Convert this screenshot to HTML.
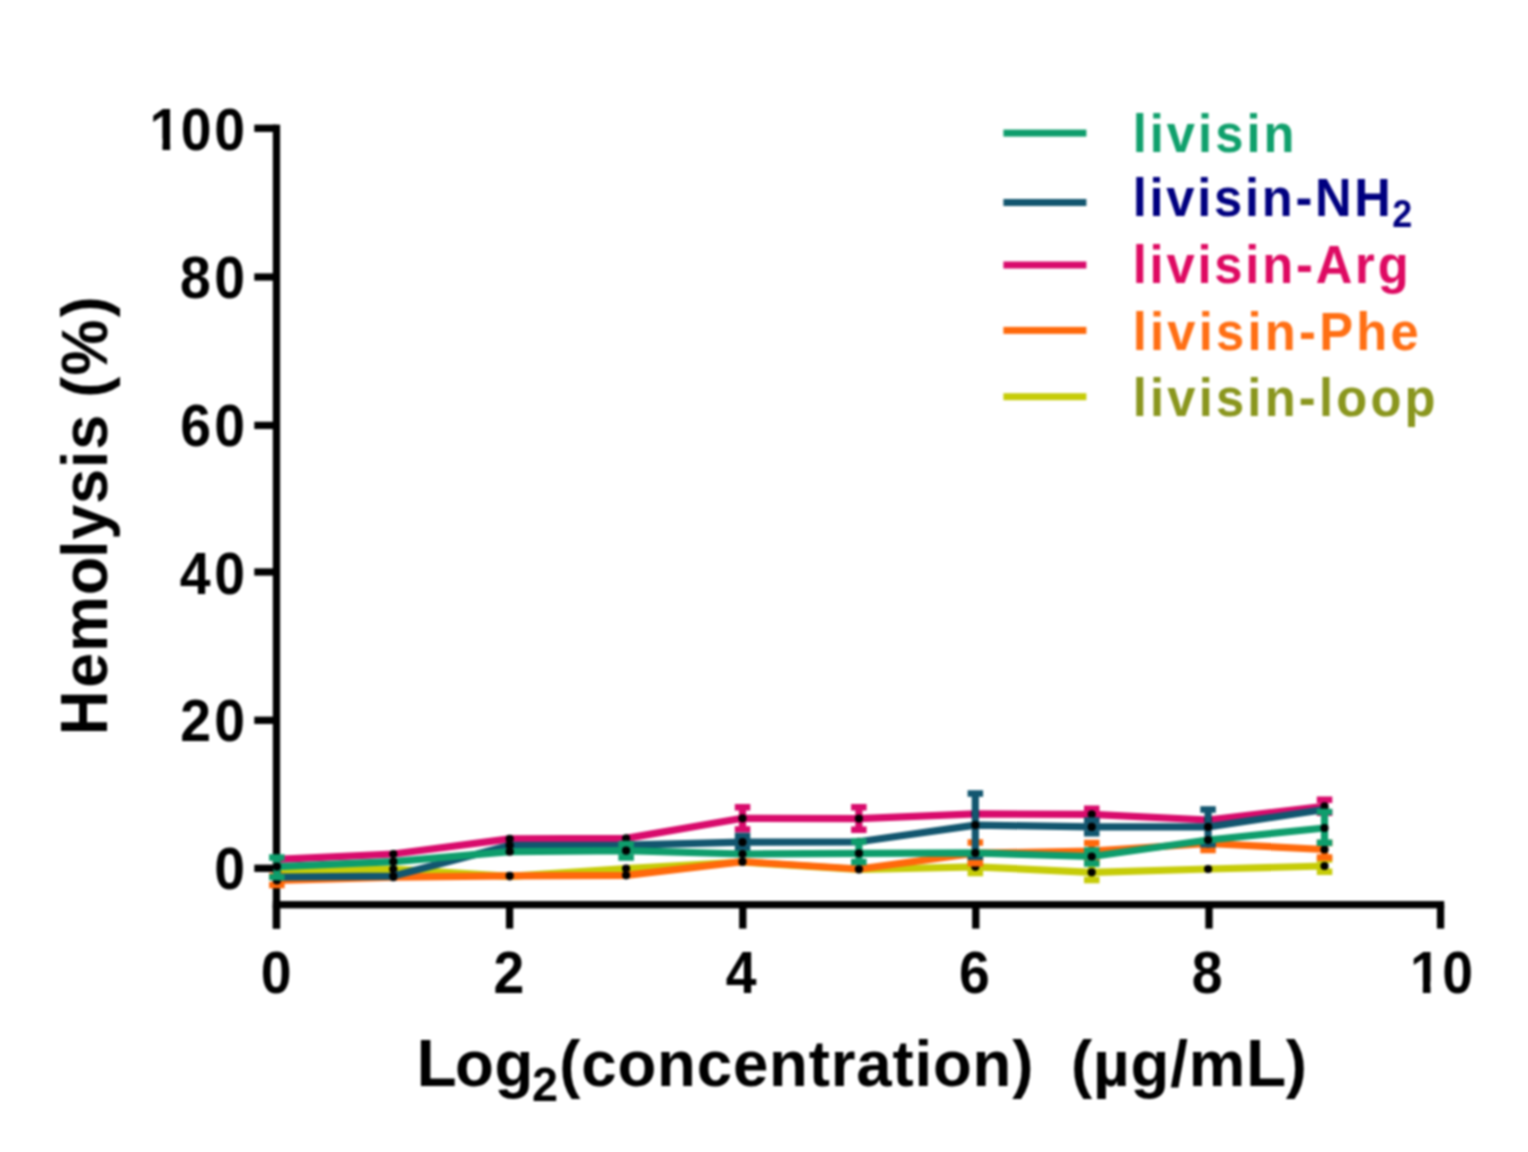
<!DOCTYPE html>
<html lang="en">
<head>
<meta charset="utf-8">
<title>Hemolysis of livisin analogues</title>
<style>
html,body{margin:0;padding:0;background:#fff;}
body{width:1528px;height:1152px;overflow:hidden;position:relative;font-family:"Liberation Sans", sans-serif;}
svg{position:absolute;left:0;top:0;display:block;filter:blur(0.8px);}
text{font-family:"Liberation Sans", sans-serif;font-weight:700;}
.tick{font-size:58.3px;fill:#000;}
.title{font-size:64.5px;fill:#000;}
.leg{font-size:54.2px;}
</style>
</head>
<body>
<svg width="1528" height="1152" viewBox="0 0 1528 1152" role="img" aria-label="Hemolysis (%) versus Log2(concentration) (µg/mL) for livisin and its analogues">
<rect x="0" y="0" width="1528" height="1152" fill="#ffffff"/>

<g id="axes" fill="#000">
<rect x="272.80" y="124.65" width="7.3" height="803.95"/>
<rect x="272.80" y="901.05" width="1171.40" height="7.3"/>
<rect x="254.3" y="864.65" width="22.15" height="7.3"/>
<rect x="254.3" y="716.65" width="22.15" height="7.3"/>
<rect x="254.3" y="568.35" width="22.15" height="7.3"/>
<rect x="254.3" y="421.75" width="22.15" height="7.3"/>
<rect x="254.3" y="273.35" width="22.15" height="7.3"/>
<rect x="254.3" y="124.65" width="22.15" height="7.3"/>
<rect x="272.80" y="904.7" width="7.3" height="23.90"/>
<rect x="505.95" y="904.7" width="7.3" height="23.90"/>
<rect x="739.15" y="904.7" width="7.3" height="23.90"/>
<rect x="972.15" y="904.7" width="7.3" height="23.90"/>
<rect x="1205.35" y="904.7" width="7.3" height="23.90"/>
<rect x="1436.90" y="904.7" width="7.3" height="23.90"/>
</g>
<g id="data" fill="none" stroke-linejoin="round" stroke-linecap="butt">
<path d="M975.3 861.0V873.0" stroke="#c6cc08" stroke-width="7.2"/>
<path d="M967.6 861.0h15.5M967.6 873.0h15.5" stroke="#c6cc08" stroke-width="6.4"/>
<path d="M1091.7 863.0V880.0" stroke="#c6cc08" stroke-width="7.2"/>
<path d="M1084.0 863.0h15.5M1084.0 880.0h15.5" stroke="#c6cc08" stroke-width="6.4"/>
<path d="M1324.5 859.6V871.8" stroke="#c6cc08" stroke-width="7.2"/>
<path d="M1316.8 859.6h15.5M1316.8 871.8h15.5" stroke="#c6cc08" stroke-width="6.4"/>
<path d="M276.9 871.0 L393.3 869.2 L509.7 876.3 L626.1 868.5 L742.5 862.0 L858.9 869.5 L975.3 866.8 L1091.7 872.3 L1208.1 869.0 L1324.5 866.0" stroke="#c6cc08" stroke-width="7.2"/>
<circle cx="276.9" cy="871.0" r="4.1" fill="#000" stroke="none"/>
<circle cx="393.3" cy="869.2" r="4.1" fill="#000" stroke="none"/>
<circle cx="509.7" cy="876.3" r="4.1" fill="#000" stroke="none"/>
<circle cx="626.1" cy="868.5" r="4.1" fill="#000" stroke="none"/>
<circle cx="742.5" cy="862.0" r="4.1" fill="#000" stroke="none"/>
<circle cx="858.9" cy="869.5" r="4.1" fill="#000" stroke="none"/>
<circle cx="975.3" cy="866.8" r="4.1" fill="#000" stroke="none"/>
<circle cx="1091.7" cy="872.3" r="4.1" fill="#000" stroke="none"/>
<circle cx="1208.1" cy="869.0" r="4.1" fill="#000" stroke="none"/>
<circle cx="1324.5" cy="866.0" r="4.1" fill="#000" stroke="none"/>
<path d="M276.9 876.0V885.0" stroke="#ff690b" stroke-width="7.2"/>
<path d="M269.1 876.0h15.5M269.1 885.0h15.5" stroke="#ff690b" stroke-width="6.4"/>
<path d="M975.3 842.5V863.3" stroke="#ff690b" stroke-width="7.2"/>
<path d="M967.6 842.5h15.5M967.6 863.3h15.5" stroke="#ff690b" stroke-width="6.4"/>
<path d="M1091.7 843.0V859.0" stroke="#ff690b" stroke-width="7.2"/>
<path d="M1084.0 843.0h15.5M1084.0 859.0h15.5" stroke="#ff690b" stroke-width="6.4"/>
<path d="M1208.1 841.0V850.0" stroke="#ff690b" stroke-width="7.2"/>
<path d="M1200.3 841.0h15.5M1200.3 850.0h15.5" stroke="#ff690b" stroke-width="6.4"/>
<path d="M1324.5 843.0V857.5" stroke="#ff690b" stroke-width="7.2"/>
<path d="M1316.8 843.0h15.5M1316.8 857.5h15.5" stroke="#ff690b" stroke-width="6.4"/>
<path d="M276.9 880.5 L393.3 877.2 L509.7 875.8 L626.1 875.3 L742.5 861.7 L858.9 869.0 L975.3 853.2 L1091.7 851.0 L1208.1 843.5 L1324.5 849.5" stroke="#ff690b" stroke-width="7.2"/>
<circle cx="276.9" cy="880.5" r="4.1" fill="#000" stroke="none"/>
<circle cx="393.3" cy="877.2" r="4.1" fill="#000" stroke="none"/>
<circle cx="509.7" cy="875.8" r="4.1" fill="#000" stroke="none"/>
<circle cx="626.1" cy="875.3" r="4.1" fill="#000" stroke="none"/>
<circle cx="742.5" cy="861.7" r="4.1" fill="#000" stroke="none"/>
<circle cx="858.9" cy="869.0" r="4.1" fill="#000" stroke="none"/>
<circle cx="975.3" cy="853.2" r="4.1" fill="#000" stroke="none"/>
<circle cx="1091.7" cy="851.0" r="4.1" fill="#000" stroke="none"/>
<circle cx="1208.1" cy="843.5" r="4.1" fill="#000" stroke="none"/>
<circle cx="1324.5" cy="849.5" r="4.1" fill="#000" stroke="none"/>
<path d="M742.5 807.2V829.4" stroke="#d80b6c" stroke-width="7.2"/>
<path d="M734.8 807.2h15.5M734.8 829.4h15.5" stroke="#d80b6c" stroke-width="6.4"/>
<path d="M858.9 807.2V829.7" stroke="#d80b6c" stroke-width="7.2"/>
<path d="M851.1 807.2h15.5M851.1 829.7h15.5" stroke="#d80b6c" stroke-width="6.4"/>
<path d="M1091.7 808.7V820.0" stroke="#d80b6c" stroke-width="7.2"/>
<path d="M1084.0 808.7h15.5M1084.0 820.0h15.5" stroke="#d80b6c" stroke-width="6.4"/>
<path d="M1324.5 799.8V812.8" stroke="#d80b6c" stroke-width="7.2"/>
<path d="M1316.8 799.8h15.5M1316.8 812.8h15.5" stroke="#d80b6c" stroke-width="6.4"/>
<path d="M276.9 859.4 L393.3 854.0 L509.7 838.9 L626.1 838.4 L742.5 818.3 L858.9 818.6 L975.3 813.9 L1091.7 814.3 L1208.1 820.0 L1324.5 806.3" stroke="#d80b6c" stroke-width="7.2"/>
<circle cx="276.9" cy="859.4" r="4.1" fill="#000" stroke="none"/>
<circle cx="393.3" cy="854.0" r="4.1" fill="#000" stroke="none"/>
<circle cx="509.7" cy="838.9" r="4.1" fill="#000" stroke="none"/>
<circle cx="626.1" cy="838.4" r="4.1" fill="#000" stroke="none"/>
<circle cx="742.5" cy="818.3" r="4.1" fill="#000" stroke="none"/>
<circle cx="858.9" cy="818.6" r="4.1" fill="#000" stroke="none"/>
<circle cx="975.3" cy="813.9" r="4.1" fill="#000" stroke="none"/>
<circle cx="1091.7" cy="814.3" r="4.1" fill="#000" stroke="none"/>
<circle cx="1208.1" cy="820.0" r="4.1" fill="#000" stroke="none"/>
<circle cx="1324.5" cy="806.3" r="4.1" fill="#000" stroke="none"/>
<path d="M742.5 836.0V848.4" stroke="#12566f" stroke-width="7.2"/>
<path d="M734.8 836.0h15.5M734.8 848.4h15.5" stroke="#12566f" stroke-width="6.4"/>
<path d="M975.3 793.5V856.7" stroke="#12566f" stroke-width="7.2"/>
<path d="M967.6 793.5h15.5M967.6 856.7h15.5" stroke="#12566f" stroke-width="6.4"/>
<path d="M1091.7 820.4V833.4" stroke="#12566f" stroke-width="7.2"/>
<path d="M1084.0 820.4h15.5M1084.0 833.4h15.5" stroke="#12566f" stroke-width="6.4"/>
<path d="M1208.1 809.5V844.3" stroke="#12566f" stroke-width="7.2"/>
<path d="M1200.3 809.5h15.5M1200.3 844.3h15.5" stroke="#12566f" stroke-width="6.4"/>
<path d="M276.9 877.1 L393.3 876.1 L509.7 845.4 L626.1 845.2 L742.5 842.2 L858.9 841.8 L975.3 825.1 L1091.7 826.9 L1208.1 826.9 L1324.5 809.5" stroke="#12566f" stroke-width="7.2"/>
<circle cx="276.9" cy="877.1" r="4.1" fill="#000" stroke="none"/>
<circle cx="393.3" cy="876.1" r="4.1" fill="#000" stroke="none"/>
<circle cx="509.7" cy="845.4" r="4.1" fill="#000" stroke="none"/>
<circle cx="626.1" cy="845.2" r="4.1" fill="#000" stroke="none"/>
<circle cx="742.5" cy="842.2" r="4.1" fill="#000" stroke="none"/>
<circle cx="858.9" cy="841.8" r="4.1" fill="#000" stroke="none"/>
<circle cx="975.3" cy="825.1" r="4.1" fill="#000" stroke="none"/>
<circle cx="1091.7" cy="826.9" r="4.1" fill="#000" stroke="none"/>
<circle cx="1208.1" cy="826.9" r="4.1" fill="#000" stroke="none"/>
<circle cx="1324.5" cy="809.5" r="4.1" fill="#000" stroke="none"/>
<path d="M276.9 857.5V877.1" stroke="#0e9d6c" stroke-width="7.2"/>
<path d="M269.1 857.5h15.5M269.1 877.1h15.5" stroke="#0e9d6c" stroke-width="6.4"/>
<path d="M626.1 843.9V857.5" stroke="#0e9d6c" stroke-width="7.2"/>
<path d="M618.4 843.9h15.5M618.4 857.5h15.5" stroke="#0e9d6c" stroke-width="6.4"/>
<path d="M858.9 841.5V862.0" stroke="#0e9d6c" stroke-width="7.2"/>
<path d="M851.1 841.5h15.5M851.1 862.0h15.5" stroke="#0e9d6c" stroke-width="6.4"/>
<path d="M1091.7 850.5V863.5" stroke="#0e9d6c" stroke-width="7.2"/>
<path d="M1084.0 850.5h15.5M1084.0 863.5h15.5" stroke="#0e9d6c" stroke-width="6.4"/>
<path d="M1324.5 811.9V842.8" stroke="#0e9d6c" stroke-width="7.2"/>
<path d="M1316.8 811.9h15.5M1316.8 842.8h15.5" stroke="#0e9d6c" stroke-width="6.4"/>
<path d="M276.9 866.6 L393.3 861.7 L509.7 851.7 L626.1 850.7 L742.5 854.0 L858.9 853.3 L975.3 852.9 L1091.7 856.5 L1208.1 840.0 L1324.5 828.0" stroke="#0e9d6c" stroke-width="7.2"/>
<circle cx="276.9" cy="866.6" r="4.1" fill="#000" stroke="none"/>
<circle cx="393.3" cy="861.7" r="4.1" fill="#000" stroke="none"/>
<circle cx="509.7" cy="851.7" r="4.1" fill="#000" stroke="none"/>
<circle cx="626.1" cy="850.7" r="4.1" fill="#000" stroke="none"/>
<circle cx="742.5" cy="854.0" r="4.1" fill="#000" stroke="none"/>
<circle cx="858.9" cy="853.3" r="4.1" fill="#000" stroke="none"/>
<circle cx="975.3" cy="852.9" r="4.1" fill="#000" stroke="none"/>
<circle cx="1091.7" cy="856.5" r="4.1" fill="#000" stroke="none"/>
<circle cx="1208.1" cy="840.0" r="4.1" fill="#000" stroke="none"/>
<circle cx="1324.5" cy="828.0" r="4.1" fill="#000" stroke="none"/>
</g>
<g id="ylabels" class="tick" transform="scale(0.95 1)">
<text x="157.45 190.30 225.51" y="150.4">100</text>
<rect x="159.20" y="138.74" width="11.83" height="13.66" fill="#fff" stroke="none"/><rect x="179.08" y="138.74" width="10.44" height="13.66" fill="#fff" stroke="none"/>
<text x="189.40 225.51" y="298.0">80</text>
<text x="189.82 225.51" y="446.0">60</text>
<text x="189.13 225.51" y="593.8">40</text>
<text x="189.73 225.51" y="741.4">20</text>
<text x="225.51" y="889.1">0</text>
</g>
<g id="xlabels" class="tick" transform="scale(0.95 1)">
<text x="274.51" y="993.1">0</text>
<text x="519.62" y="993.1">2</text>
<text x="763.82" y="993.1">4</text>
<text x="1009.55" y="993.1">6</text>
<text x="1254.45" y="993.1">8</text>
<text x="1484.18 1518.08" y="993.1">10</text>
<rect x="1485.93" y="981.44" width="11.83" height="13.66" fill="#fff" stroke="none"/><rect x="1505.81" y="981.44" width="10.44" height="13.66" fill="#fff" stroke="none"/>
</g>
<text class="title" style="font-size:64.5px;letter-spacing:0.84px" text-anchor="start" transform="translate(107.4 731.0) rotate(-90) scale(0.975 0.997)" x="-4.32" y="0" dx="0.00 2.05 0.00 0.00 -2.05 0.00 0.00 0.00 0.00 0.00 -2.05 0.62 1.44"><tspan style="font-size:66.8px" textLength="46.58" lengthAdjust="spacingAndGlyphs">H</tspan>emolysis (%)</text>
<text class="title" style="font-size:65.2px;letter-spacing:0.84px" transform="translate(0 1086.1) scale(0.975 0.997)" xml:space="preserve"><tspan x="427.28" y="0"><tspan style="font-size:67.5px">L</tspan></tspan><tspan x="466.56" y="0">og</tspan><tspan x="545.64" y="15.05" style="font-size:48px">2</tspan><tspan x="573.64" y="0">(concentration)  (µg/m<tspan style="font-size:67.5px">L</tspan></tspan><tspan x="1318.72" y="0">)</tspan></text>
<g id="legend">
<rect x="1003.4" y="129.6" width="83.0" height="7.0" fill="#0e9d6c"/>
<text class="leg" transform="scale(0.935 1)" x="1211.39" y="152.0" fill="#10a06c" style="letter-spacing:3.25px">livisin</text>
<rect x="1003.4" y="199.0" width="83.0" height="7.0" fill="#12566f"/>
<text class="leg" transform="scale(0.935 1)" x="1211.39" y="216.4" fill="#000080" style="letter-spacing:2.93px">livisin-NH<tspan x="1489.09" y="227.4" style="font-size:38.5px;letter-spacing:0">2</tspan></text>
<rect x="1003.4" y="261.5" width="83.0" height="7.0" fill="#d80b6c"/>
<text class="leg" transform="scale(0.935 1)" x="1211.39" y="283.1" fill="#de0a62" style="letter-spacing:3.02px">livisin-Arg</text>
<rect x="1003.4" y="326.9" width="83.0" height="7.0" fill="#ff690b"/>
<text class="leg" transform="scale(0.935 1)" x="1211.39" y="349.6" fill="#ff6f14" style="letter-spacing:3.48px">livisin-Phe</text>
<rect x="1003.4" y="393.2" width="83.0" height="7.0" fill="#c6cc08"/>
<text class="leg" transform="scale(0.935 1)" x="1211.39" y="415.8" fill="#8a961e" style="letter-spacing:3.45px">livisin-loop</text>
</g>
</svg>
</body>
</html>
